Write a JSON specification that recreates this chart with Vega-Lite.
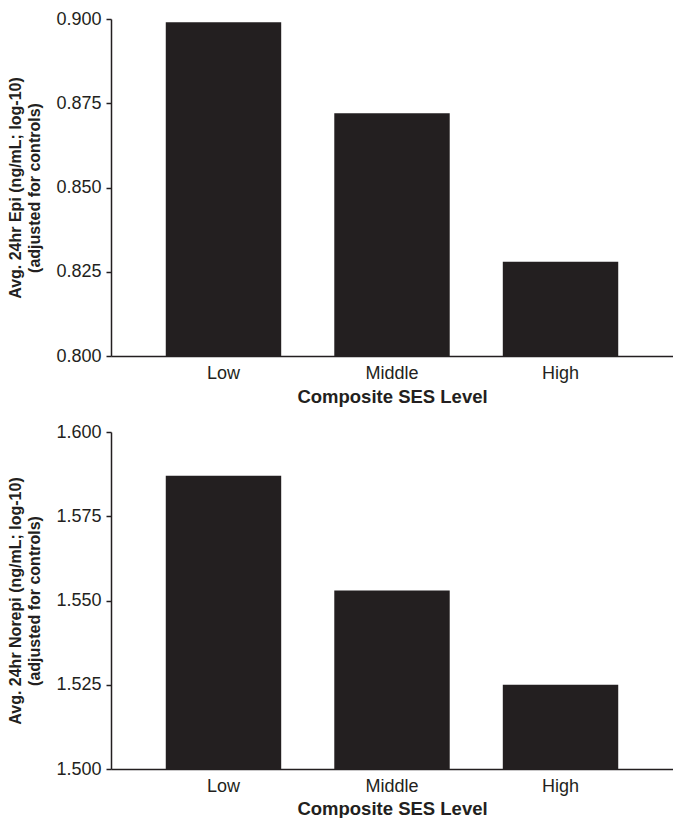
{
  "$schema": "https://vega.github.io/schema/vega-lite/v6.json",
  "padding": {"left": 7, "top": 10, "right": 0, "bottom": 0},
  "background": "white",
  "config": {
    "font": "Liberation Sans",
    "view": {"stroke": null},
    "concat": {"spacing": 17},
    "axis": {
      "grid": false,
      "domainColor": "#231f20",
      "domainWidth": 1.5,
      "tickColor": "#231f20",
      "tickWidth": 1.5,
      "labelColor": "#231f20",
      "titleColor": "#231f20",
      "labelFont": "Liberation Sans",
      "titleFont": "Liberation Sans",
      "labelFontSize": 18,
      "titleFontWeight": "bold"
    },
    "axisX": {"titleFontSize": 18.5},
    "axisY": {"titleFontSize": 16, "titleLineHeight": 19}
  },
  "vconcat": [
    {
      "width": 562,
      "height": 337,
      "data": {"values": [
        {"ses": "Low", "value": 0.899},
        {"ses": "Middle", "value": 0.872},
        {"ses": "High", "value": 0.828}
      ]},
      "mark": {"type": "bar", "color": "#231f20"},
      "encoding": {
        "x": {"field": "ses", "type": "nominal", "sort": ["Low", "Middle", "High"],
          "scale": {"paddingInner": 0.315, "paddingOuter": 0.325},
          "axis": {"title": "Composite SES Level", "labelAngle": 0, "ticks": false, "labelPadding": 8, "titlePadding": 5}},
        "y": {"field": "value", "type": "quantitative",
          "scale": {"domain": [0.8, 0.9], "nice": false, "zero": false},
          "axis": {"values": [0.8, 0.825, 0.85, 0.875, 0.9], "format": ".3f", "tickSize": 5, "labelPadding": 5,
            "title": ["Avg. 24hr Epi (ng/mL; log-10)", "(adjusted for controls)"], "titlePadding": 13}},
        "y2": {"datum": 0.8}
      }
    },
    {
      "width": 562,
      "height": 337,
      "data": {"values": [
        {"ses": "Low", "value": 1.587},
        {"ses": "Middle", "value": 1.553},
        {"ses": "High", "value": 1.525}
      ]},
      "mark": {"type": "bar", "color": "#231f20"},
      "encoding": {
        "x": {"field": "ses", "type": "nominal", "sort": ["Low", "Middle", "High"],
          "scale": {"paddingInner": 0.315, "paddingOuter": 0.325},
          "axis": {"title": "Composite SES Level", "labelAngle": 0, "ticks": false, "labelPadding": 8, "titlePadding": 4}},
        "y": {"field": "value", "type": "quantitative",
          "scale": {"domain": [1.5, 1.6], "nice": false, "zero": false},
          "axis": {"values": [1.5, 1.525, 1.55, 1.575, 1.6], "format": ".3f", "tickSize": 5, "labelPadding": 5,
            "title": ["Avg. 24hr Norepi (ng/mL; log-10)", "(adjusted for controls)"], "titlePadding": 13}},
        "y2": {"datum": 1.5}
      }
    }
  ]
}
